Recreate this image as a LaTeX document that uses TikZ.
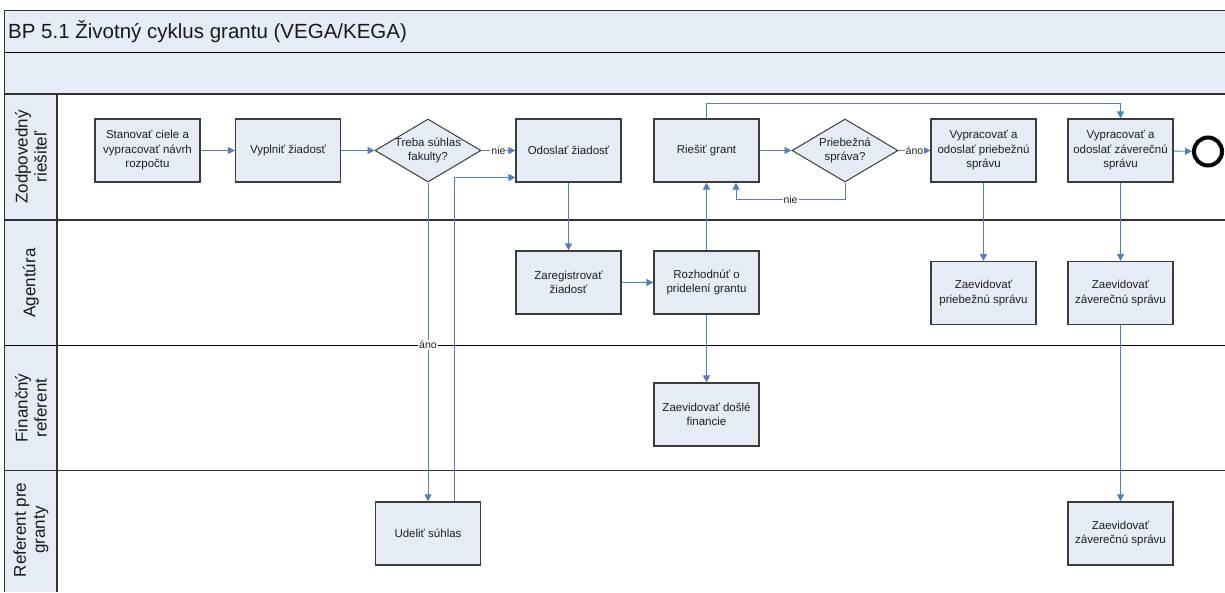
\documentclass[tikz,border=0pt]{standalone}
\usepackage{fontspec}
\setmainfont{Liberation Sans}
\usetikzlibrary{arrows.meta,shapes.geometric}
\definecolor{paleblue}{RGB}{230,236,246}
\definecolor{flowblue}{RGB}{79,129,189}
\definecolor{boxedge}{RGB}{60,60,60}
\definecolor{rulegray}{RGB}{50,50,50}

\begin{document}
\begin{tikzpicture}[x=1pt,y=-1pt,
  task/.style={draw=boxedge, line width=1.2pt, fill=paleblue,
    minimum width=105pt, minimum height=63pt, inner sep=0pt,
    align=center, text=black!88, font=\fontsize{11.5}{14.5}\selectfont},
  gate/.style={diamond, draw=boxedge, line width=1pt, fill=paleblue,
    minimum width=106pt, minimum height=63pt, inner sep=0pt},
  gatetext/.style={align=center, text=black!88, inner sep=0pt,
    font=\fontsize{11.5}{14.5}\selectfont},
  flow/.style={draw=flowblue, line width=0.9pt,
    -{Triangle[length=7pt,width=7pt]}},
  lbl/.style={fill=white, inner sep=1pt, text=black!88,
    font=\fontsize{10.5}{12}\selectfont},
  lanelbl/.style={rotate=90, align=center, text=black!90,
    font=\fontsize{17}{19}\selectfont},
  thickrule/.style={draw=rulegray, line width=1.8pt},
  thinrule/.style={draw=black, line width=1pt}]

\useasboundingbox (0,0) rectangle (1225,592);

% header bands and lane label column
\fill[paleblue] (4,10.5) rectangle (1225,94);
\fill[paleblue] (4,94) rectangle (57,592);
\draw[thinrule, draw=rulegray] (1225,10.5) -- (4,10.5) -- (4,592);
\draw[thinrule] (4,52) -- (1225,52);
\draw[thickrule] (4,94) -- (1225,94);
\draw[thickrule] (4,220) -- (1225,220);
\draw[thinrule] (4,345.5) -- (1225,345.5);
\draw[thickrule] (4,470.5) -- (1225,470.5);
\draw[thickrule] (57,94) -- (57,592);

\node[anchor=west, inner sep=0pt, text=black!90, font=\fontsize{20.5}{24}\selectfont]
  (title) at (8,32) {BP 5.1 Životný cyklus grantu (VEGA/KEGA)};

% lane labels
\node[lanelbl] (lane1) at (31,157) {Zodpovedný\\riešiteľ};
\node[lanelbl] (lane2) at (31,283) {Agentúra};
\node[lanelbl] (lane3) at (31,408) {Finančný\\referent};
\node[lanelbl] (lane4) at (31,530) {Referent pre\\granty};

% Zodpovedný riešiteľ
\node[task] (s1) at (147.5,150.5) {Stanovať ciele a\\vypracovať návrh\\rozpočtu};
\node[task] (s2) at (288,150.5) {Vyplniť žiadosť};
\node[gate, label={[gatetext]center:Treba súhlas\\fakulty?}] (d1) at (428,150.5) {};
\node[task] (s3) at (568.5,150.5) {Odoslať žiadosť};
\node[task] (s4) at (706.5,150.5) {Riešiť grant};
\node[gate, label={[gatetext]center:Priebežná\\správa?}] (d2) at (845,150.5) {};
\node[task] (s5) at (983.5,150.5) {Vypracovať a\\odoslať priebežnú\\správu};
\node[task] (s6) at (1120.5,150.5) {Vypracovať a\\odoslať záverečnú\\správu};
\node[circle, draw=black, line width=4pt, fill=white, minimum size=28pt, inner sep=0pt]
  (end) at (1208,151.5) {};

% Agentúra
\node[task] (a1) at (568.5,282.5) {Zaregistrovať\\žiadosť};
\node[task] (a2) at (706.5,282.5) {Rozhodnúť o\\pridelení grantu};
\node[task] (a3) at (983.5,293) {Zaevidovať\\priebežnú správu};
\node[task] (a4) at (1120.5,293) {Zaevidovať\\záverečnú správu};

% Finančný referent
\node[task] (f1) at (706.5,414.5) {Zaevidovať došlé\\financie};

% Referent pre granty
\node[task] (u1) at (428,533.5) {Udeliť súhlas};
\node[task] (g1) at (1120.5,533.5) {Zaevidovať\\záverečnú správu};

% connectors
\draw[flow] (s1) -- (s2);
\draw[flow] (s2) -- (d1);
\draw[flow] (d1) -- node[lbl]{nie} (s3);
\draw[flow] (d1.south) -- node[lbl, pos=0.51]{áno} (u1.north);
\draw[flow] ([xshift=26.5pt]u1.north) |- ([yshift=-27pt]s3.west);
\draw[flow] (s3) -- (a1);
\draw[flow] (a1) -- (a2);
\draw[flow] (a2) -- (s4);
\draw[flow] (a2) -- (f1);
\draw[flow] (s4) -- (d2);
\draw[flow] (d2) -- node[lbl]{áno} (s5);
\draw[flow] (d2.south) -- ++(0,17) -| node[lbl, pos=0.25]{nie} ([xshift=29.5pt]s4.south);
\draw[flow] (s4.north) -- ++(0,-15) -| (s6.north);
\draw[flow] (s5) -- (a3);
\draw[flow] (s6) -- (a4);
\draw[flow] (a4) -- (g1);
\draw[flow] (s6) -- (end);

\end{tikzpicture}
\end{document}
